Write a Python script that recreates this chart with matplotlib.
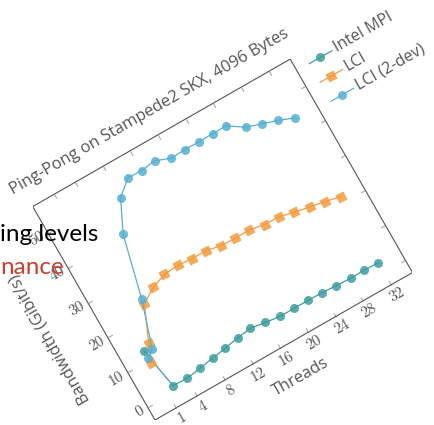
import matplotlib
matplotlib.use("Agg")
import matplotlib.pyplot as plt
from matplotlib.colors import to_rgba
from matplotlib.markers import MarkerStyle
from matplotlib.transforms import Affine2D
import mpl_toolkits.axisartist.floating_axes as floating_axes
from mpl_toolkits.axisartist.grid_finder import FixedLocator, DictFormatter

# Ping-pong bandwidth (Gibit/s) per thread count
threads = [1, 2, 4, 6, 8, 10, 12, 14, 16, 18, 20, 22, 24, 26, 28, 30, 32]
intel_mpi = [12.5, 1.5, 1.3, 1.9, 2.5, 3.1, 3.8, 4.3, 3.7, 3.2, 3.2, 3.2, 3.1, 2.9, 2.7, 2.8, 2.6]
lci = [9.2, 13.7, 22.8, 25.2, 26.6, 26.9, 26.6, 26.6, 25.8, 25.7, 25.7, 25.0, 24.9, 24.0, 23.2, 22.5, 21.6]
lci_2dev = [10.5, 11.9, 24.1, 40.4, 48.6, 52.0, 51.9, 52.4, 50.9, 51.1, 51.0, 51.1, 51.1, 48.4, 47.1, 45.8, 44.3]

x_ticks = [1, 4, 8, 12, 16, 20, 24, 28, 32]
y_ticks = [0, 10, 20, 30, 40, 50]

TEAL = "#3c9c9e"
ORANGE = "#f39a3e"
BLUE = "#55afd0"
GREY = "#555555"

ANGLE = 29.8          # the whole chart is tilted
X_LIM = (-2.1, 35.1)
Y_LIM = (-3.72, 57.62)
W, H = 434, 425
PX_X = 296.7 / (X_LIM[1] - X_LIM[0])
PX_Y = 246.0 / (Y_LIM[1] - Y_LIM[0])

fig = plt.figure(figsize=(W / 100, H / 100), dpi=100)

tr = Affine2D().scale(PX_X, PX_Y).rotate_deg(ANGLE)
helper = floating_axes.GridHelperCurveLinear(
    tr, extremes=(*X_LIM, *Y_LIM),
    grid_locator1=FixedLocator(x_ticks), grid_locator2=FixedLocator(y_ticks),
    tick_formatter1=DictFormatter({t: str(t) for t in x_ticks}),
    tick_formatter2=DictFormatter({t: str(t) for t in y_ticks}),
)

corners = tr.transform([(X_LIM[0], Y_LIM[0]), (X_LIM[1], Y_LIM[0]),
                        (X_LIM[0], Y_LIM[1]), (X_LIM[1], Y_LIM[1])])
hx0, hy0 = corners.min(axis=0)
hx1, hy1 = corners.max(axis=0)
ox, oy = corners[0]
left = 155 - (ox - hx0)
bottom = 5 - (oy - hy0)
ax = fig.add_axes([left / W, bottom / H, (hx1 - hx0) / W, (hy1 - hy0) / H],
                  axes_class=floating_axes.FloatingAxes, grid_helper=helper)
ax.set_xlim(hx0, hx1)
ax.set_ylim(hy0, hy1)

for side in ["bottom", "left", "top", "right"]:
    axis = ax.axis[side]
    axis.line.set_color(GREY)
    axis.line.set_linewidth(0.8)
    axis.major_ticks.set_color("#aaaaaa")
    axis.major_ticks.set_ticksize(3.5)
    axis.major_ticklabels.set(fontfamily="cmr10", fontsize=11, color=GREY)
for side in ["top", "right"]:
    ax.axis[side].major_ticklabels.set_visible(False)
# keep y tick numbers upright in the tilted frame
ax.axis["left"].major_ticklabels.set_rotation(90)
ax.axis["left"].major_ticklabels.set_ha("right")
ax.axis["left"].major_ticklabels.set_va("center")

aux = ax.get_aux_axes(tr)
square = MarkerStyle("s", transform=Affine2D().rotate_deg(ANGLE))
series = [
    ("Intel MPI", intel_mpi, TEAL, "o"),
    ("LCI", lci, ORANGE, square),
    ("LCI (2-dev)", lci_2dev, BLUE, "o"),
]
for name, vals, color, marker in series:
    aux.plot(threads, vals, color=color, lw=0.9, marker=marker, ms=6.5,
             mfc=to_rgba(color, 0.85), mec="none")

# rotated legend, to the right of the top-right corner
leg_y = [54.26, 48.87, 43.44]
for (name, vals, color, marker), y in zip(series, leg_y):
    aux.plot([36.9, 40.16], [y, y], color=color, lw=0.9, clip_on=False)
    aux.plot([38.5], [y], color=color, marker=marker, ms=6.5,
             mfc=to_rgba(color, 0.85), mec="none", clip_on=False)
    aux.text(40.6, y, name, rotation=ANGLE, rotation_mode="anchor",
             ha="left", va="center", fontsize=11.5, color=GREY,
             family="Open Sans")

x_mid = (X_LIM[0] + X_LIM[1]) / 2
y_mid = (Y_LIM[0] + Y_LIM[1]) / 2
aux.text(x_mid, 63.6, "Ping-Pong on Stampede2 SKX, 4096 Bytes",
         rotation=ANGLE, rotation_mode="anchor", ha="center", va="center",
         fontsize=11.9, color=GREY, family="Open Sans")
aux.text(x_mid, -12.45, "Threads", rotation=ANGLE, rotation_mode="anchor",
         ha="center", va="center", fontsize=11.8, color=GREY, family="Open Sans")
aux.text(-8.42, y_mid, "Bandwidth (Gibit/s)", rotation=ANGLE + 90,
         rotation_mode="anchor", ha="center", va="center",
         fontsize=11.8, color=GREY, family="Open Sans")

# slide text that overlaps the chart on the left
fig.text(0.0, 1 - 241 / H, "ing levels", fontsize=17.5, color="black",
         family="Lato", zorder=10)
fig.text(0.0, 1 - 274 / H, "nance", fontsize=17.5, color="#c8402f",
         family="Lato", zorder=10)

fig.savefig("out.png", dpi=100, facecolor="white")
